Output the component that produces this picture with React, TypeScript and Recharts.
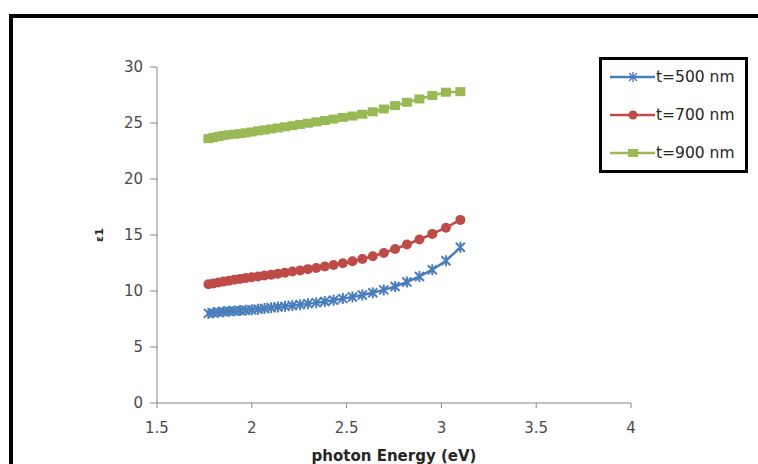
import { LineChart, Line, XAxis, YAxis, Label } from 'recharts';

// photon energy (eV) of each measured point
const energy = [1.771, 1.797, 1.824, 1.851, 1.879, 1.908, 1.938, 1.968, 2.0, 2.033, 2.067, 2.102, 2.138, 2.175, 2.214, 2.255, 2.296, 2.34, 2.385, 2.431, 2.48, 2.531, 2.583, 2.638, 2.696, 2.756, 2.818, 2.884, 2.952, 3.024, 3.1];

const eps500 = [8.0, 8.05, 8.1, 8.15, 8.2, 8.22, 8.25, 8.28, 8.32, 8.38, 8.44, 8.5, 8.57, 8.63, 8.7, 8.78, 8.87, 8.96, 9.06, 9.18, 9.32, 9.47, 9.65, 9.85, 10.1, 10.4, 10.8, 11.3, 11.9, 12.7, 13.9];
const eps700 = [10.6, 10.68, 10.76, 10.84, 10.92, 11.0, 11.08, 11.15, 11.22, 11.3, 11.38, 11.46, 11.55, 11.64, 11.74, 11.84, 11.95, 12.06, 12.18, 12.32, 12.48, 12.66, 12.86, 13.1, 13.4, 13.75, 14.15, 14.6, 15.1, 15.65, 16.35];
const eps900 = [23.6, 23.7, 23.8, 23.88, 23.95, 24.0, 24.05, 24.12, 24.2, 24.3, 24.38, 24.47, 24.56, 24.66, 24.76, 24.87, 24.98, 25.1, 25.22, 25.35, 25.5, 25.62, 25.78, 26.0, 26.25, 26.55, 26.85, 27.15, 27.45, 27.75, 27.8];

const xTicks = [1.5, 2, 2.5, 3, 3.5, 4];
const yTicks = [0, 5, 10, 15, 20, 25, 30];

const data = energy.map((e, i) => ({ e, t500: eps500[i], t700: eps700[i], t900: eps900[i] }));

const BLUE = '#4a7ebb';
const RED = '#be4b48';
const GREEN = '#98b954';
const FONT = '"DejaVu Sans", sans-serif';

const StarDot = (props: any) => {
  const { cx, cy } = props;
  if (cx == null || cy == null) return null;
  const r = 4.5;
  return (
    <path
      key={`s-${cx}`}
      d={`M${cx - r},${cy - r}L${cx + r},${cy + r}M${cx - r},${cy + r}L${cx + r},${cy - r}M${cx},${cy - r - 1}L${cx},${cy + r + 1}`}
      stroke={BLUE}
      strokeWidth={2}
      fill="none"
    />
  );
};

const SquareDot = (props: any) => {
  const { cx, cy } = props;
  if (cx == null || cy == null) return null;
  return <rect key={`q-${cx}`} x={cx - 5} y={cy - 4.5} width={10} height={9} fill={GREEN} />;
};

const legendItems = [
  { name: 't=500 nm', color: BLUE, mark: 'star' },
  { name: 't=700 nm', color: RED, mark: 'circle' },
  { name: 't=900 nm', color: GREEN, mark: 'square' },
];

export default function App() {
  return (
    <div style={{ position: 'absolute', left: 0, top: 0, width: 758, height: 464, overflow: 'hidden', background: '#fff', fontFamily: FONT }}>
      <div style={{ position: 'absolute', left: 9, top: 14, width: 800, height: 500, border: '4px solid #000', boxSizing: 'border-box' }} />
      <LineChart width={758} height={464} data={data} margin={{ top: 67, right: 127, bottom: 0, left: 97 }}>
        <XAxis
          dataKey="e"
          type="number"
          domain={[1.5, 4]}
          ticks={xTicks}
          height={61}
          tickSize={5}
          tickMargin={14}
          stroke="#868686"
          tick={{ fill: '#4a4a4a', fontSize: 15, fontFamily: FONT }}
        >
          <Label value="photon Energy (eV)" position="insideBottom" offset={3} style={{ fontWeight: 'bold', fontSize: 15, fill: '#262626', fontFamily: FONT }} />
        </XAxis>
        <YAxis
          type="number"
          domain={[0, 30]}
          ticks={yTicks}
          width={60}
          tickSize={7}
          tickMargin={7}
          stroke="#868686"
          tick={{ fill: '#4a4a4a', fontSize: 15, fontFamily: FONT }}
        />
        <Line dataKey="t500" name="t=500 nm" stroke={BLUE} strokeWidth={2.5} dot={<StarDot />} isAnimationActive={false} />
        <Line dataKey="t700" name="t=700 nm" stroke={RED} strokeWidth={2.5} dot={{ r: 5, fill: RED, stroke: RED, strokeWidth: 0 }} isAnimationActive={false} />
        <Line dataKey="t900" name="t=900 nm" stroke={GREEN} strokeWidth={2.5} dot={<SquareDot />} isAnimationActive={false} />
      </LineChart>
      {/* y axis title */}
      <div style={{ position: 'absolute', left: 92, top: 227, width: 16, height: 16, transform: 'rotate(-90deg)', fontSize: 11, fontWeight: 'bold', color: '#262626', lineHeight: '16px', textAlign: 'center' }}>
        ε1
      </div>
      {/* legend */}
      <div style={{ position: 'absolute', left: 599, top: 57, width: 149, height: 116, border: '3px solid #000', boxSizing: 'border-box', background: '#fff' }}>
        {legendItems.map((it, i) => (
          <div key={it.name} style={{ position: 'absolute', left: 8, top: 6 + i * 38, height: 22, display: 'flex', alignItems: 'center' }}>
            <svg width={45} height={22}>
              <line x1={0} y1={11} x2={45} y2={11} stroke={it.color} strokeWidth={2.5} />
              {it.mark === 'circle' && <circle cx={23} cy={11} r={4.5} fill={it.color} />}
              {it.mark === 'square' && <rect x={18} y={7} width={10} height={8} fill={it.color} />}
              {it.mark === 'star' && (
                <path d="M19,7L27,15M19,15L27,7M23,6L23,16" stroke={it.color} strokeWidth={1.4} fill="none" />
              )}
            </svg>
            <span style={{ fontSize: 15.5, color: '#262626', marginLeft: 1, whiteSpace: 'nowrap' }}>{it.name}</span>
          </div>
        ))}
      </div>
    </div>
  );
}
